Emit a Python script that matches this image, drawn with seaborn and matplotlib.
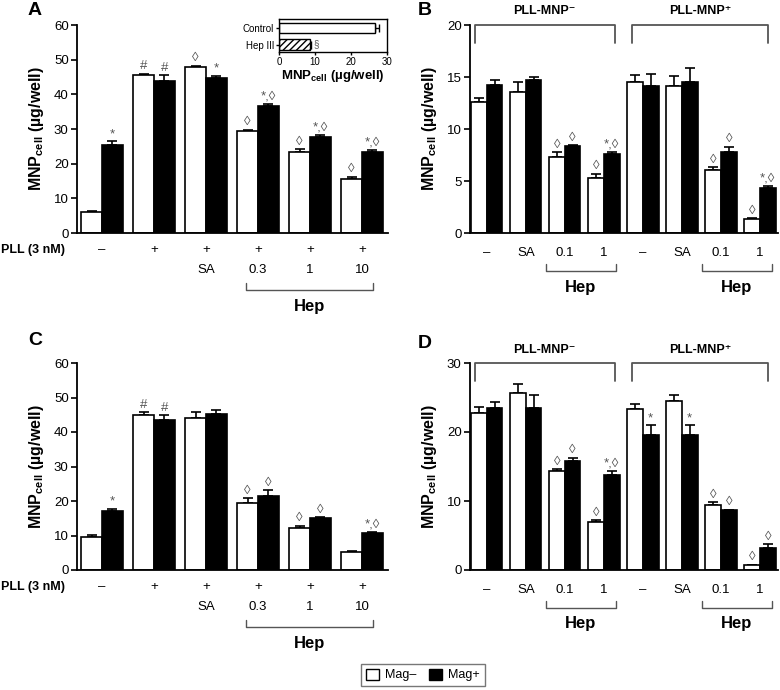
import numpy as np
import pandas as pd
import matplotlib
matplotlib.use("Agg")
import matplotlib.pyplot as plt
import matplotlib.transforms as mtransforms
from matplotlib.patches import Patch
import seaborn as sns

sns.set_theme(style="ticks", rc={"axes.edgecolor": "black", "text.color": "black",
                                 "xtick.color": "black", "ytick.color": "black",
                                 "axes.labelcolor": "black"})
plt.rcParams["font.family"] = ["Liberation Sans", "DejaVu Sans"]
plt.rcParams["mathtext.fontset"] = "custom"
plt.rcParams["mathtext.rm"] = "Liberation Sans"
plt.rcParams["mathtext.bf"] = "Liberation Sans:bold"
plt.rcParams["mathtext.it"] = "Liberation Sans:italic"
plt.rcParams["hatch.linewidth"] = 1.0

# ---------------- data ----------------
hue_levels = ["Mag–", "Mag+"]

# Panel A
a_row1 = ["–", "+", "+", "+", "+", "+"]
a_row2 = ["", "", "SA", "0.3", "1", "10"]
a_minus = [6.0, 45.6, 47.8, 29.5, 23.5, 15.6]
a_minus_err = [0.4, 0.4, 0.5, 0.3, 0.6, 0.6]
a_plus = [25.4, 43.9, 44.6, 36.7, 27.6, 23.3]
a_plus_err = [1.0, 1.7, 0.7, 0.4, 0.8, 0.7]
a_sig_minus = ["", "#", "◊", "◊", "◊", "◊"]
a_sig_plus = ["*", "#", "*", "*,◊", "*,◊", "*,◊"]

# Panel B
b_labels = ["–", "SA", "0.1", "1", "–", "SA", "0.1", "1"]
b_minus = [12.6, 13.6, 7.3, 5.3, 14.55, 14.15, 6.05, 1.3]
b_minus_err = [0.4, 0.9, 0.45, 0.4, 0.65, 0.9, 0.25, 0.1]
b_plus = [14.2, 14.7, 8.4, 7.55, 14.1, 14.5, 7.8, 4.35]
b_plus_err = [0.5, 0.3, 0.05, 0.25, 1.2, 1.4, 0.5, 0.2]
b_sig_minus = ["", "", "◊", "◊", "", "", "◊", "◊"]
b_sig_plus = ["", "", "◊", "*,◊", "", "", "◊", "*,◊"]

# Panel C
c_row1 = ["–", "+", "+", "+", "+", "+"]
c_row2 = ["", "", "SA", "0.3", "1", "10"]
c_minus = [9.7, 45.0, 44.0, 19.5, 12.1, 5.3]
c_minus_err = [0.4, 0.7, 1.7, 1.35, 0.7, 0.35]
c_plus = [17.1, 43.5, 45.2, 21.4, 15.0, 10.65]
c_plus_err = [0.7, 1.35, 1.05, 1.7, 0.3, 0.3]
c_sig_minus = ["", "#", "", "◊", "◊", ""]
c_sig_plus = ["*", "#", "", "◊", "◊", "*,◊"]

# Panel D
d_labels = ["–", "SA", "0.1", "1", "–", "SA", "0.1", "1"]
d_minus = [22.7, 25.6, 14.4, 7.0, 23.35, 24.55, 9.45, 0.67]
d_minus_err = [0.9, 1.3, 0.25, 0.2, 0.7, 0.8, 0.35, 0.1]
d_plus = [23.5, 23.45, 15.75, 13.8, 19.6, 19.6, 8.67, 3.2]
d_plus_err = [0.9, 1.9, 0.5, 0.6, 1.35, 1.35, 0.05, 0.55]
d_sig_minus = ["", "", "◊", "◊", "", "", "◊", "◊"]
d_sig_plus = ["", "", "◊", "*,◊", "*", "*", "◊", "◊"]

# Inset (panel A)
inset_cats = ["Control", "Hep III"]
inset_vals = [26.8, 8.6]
inset_err = [1.1, 0.3]
inset_sig = ["", "§"]

group_titles = ["PLL-MNP⁻", "PLL-MNP⁺"]

# ---------------- figure ----------------
W, H = 780, 690
fig = plt.figure(figsize=(W / 100, H / 100), dpi=100)


def axes_px(l, t, r, b):
    return fig.add_axes([l / W, 1 - b / H, (r - l) / W, (b - t) / H])


YLABEL = r"MNP$_{\mathbf{cell}}$ (µg/well)"
ANN_COLOR = "#555555"


def draw_panel(ax, minus, minus_err, plus, plus_err, sig_minus, sig_plus,
               ymax, ystep, xlim):
    n = len(minus)
    ids = [f"c{i}" for i in range(n)]
    df = pd.DataFrame({"cond": ids * 2,
                       "mag": [hue_levels[0]] * n + [hue_levels[1]] * n,
                       "val": list(minus) + list(plus)})
    sns.barplot(data=df, x="cond", y="val", hue="mag", order=ids,
                hue_order=hue_levels,
                palette={hue_levels[0]: "white", hue_levels[1]: "black"},
                edgecolor="black", linewidth=1.2, errorbar=None, width=0.8,
                saturation=1, legend=False, ax=ax, zorder=2)
    for cont, errs, sigs in zip(ax.containers, [minus_err, plus_err],
                                [sig_minus, sig_plus]):
        xs = [b.get_x() + b.get_width() / 2 for b in cont]
        hs = [b.get_height() for b in cont]
        ax.errorbar(xs, hs, yerr=[np.zeros(n), errs], fmt="none",
                    ecolor="black", elinewidth=1.2, capsize=3.5,
                    capthick=1.2, zorder=1)
        for x, h, e, s in zip(xs, hs, errs, sigs):
            if s:
                ax.annotate(s, (x, h + e), xytext=(0, 1),
                            textcoords="offset points", ha="center",
                            va="bottom", fontsize=9.5, color=ANN_COLOR)
    ax.set_xlim(*xlim)
    ax.set_ylim(0, ymax)
    ax.set_yticks(np.arange(0, ymax + 0.1, ystep))
    ax.set_xticks(range(n))
    ax.set_xticklabels([""] * n)
    ax.set_xlabel("")
    ax.set_ylabel(YLABEL, fontsize=11.5, fontweight="bold")
    ax.yaxis.set_label_coords(-0.10, 0.5)
    ax.tick_params(axis="x", length=0)
    ax.tick_params(axis="y", direction="out", length=4, width=1.2,
                   labelsize=9.5, pad=2)
    sns.despine(ax=ax)
    for sp in ("left", "bottom"):
        ax.spines[sp].set_linewidth(1.3)


def bracket_below(ax, x0, x1, y_top, y_bot, text, y_text):
    tr = mtransforms.blended_transform_factory(ax.transData, ax.transAxes)
    ax.plot([x0, x0, x1, x1], [y_top, y_bot, y_bot, y_top], color="#555555",
            lw=1.0, transform=tr, clip_on=False)
    ax.text((x0 + x1) / 2, y_text, text, transform=tr, ha="center",
            va="center", fontsize=12, fontweight="bold")


def bracket_above(ax, x0, x1, y_top, y_bot, text, y_text):
    tr = mtransforms.blended_transform_factory(ax.transData, ax.transAxes)
    ax.plot([x0, x0, x1, x1], [y_bot, y_top, y_top, y_bot], color="#555555",
            lw=1.3, transform=tr, clip_on=False)
    ax.text((x0 + x1) / 2, y_text, text, transform=tr, ha="center",
            va="center", fontsize=9, fontweight="bold")


def row_labels(ax, labels, y):
    tr = mtransforms.blended_transform_factory(ax.transData, ax.transAxes)
    for i, lab in enumerate(labels):
        if lab:
            ax.text(i, y, lab, transform=tr, ha="center", va="center",
                    fontsize=9.5)


# ---- Panels A and C (PLL rows) ----
axA = axes_px(77, 25, 388, 233)
axC = axes_px(77, 363, 388, 570)
for ax, mi, mie, pl, ple, smi, spl, r1, r2 in [
        (axA, a_minus, a_minus_err, a_plus, a_plus_err, a_sig_minus,
         a_sig_plus, a_row1, a_row2),
        (axC, c_minus, c_minus_err, c_plus, c_plus_err, c_sig_minus,
         c_sig_plus, c_row1, c_row2)]:
    draw_panel(ax, mi, mie, pl, ple, smi, spl, 60, 10, (-0.48, 5.5))
    row_labels(ax, r1, -0.082)
    row_labels(ax, r2, -0.178)
    tr = mtransforms.blended_transform_factory(fig.transFigure, ax.transAxes)
    ax.text(1 / W, -0.082, "PLL (3 nM)", transform=tr,
            ha="left", va="center", fontsize=9, fontweight="bold")
    bracket_below(ax, 2.77, 5.21, -0.24, -0.274, "Hep", -0.355)

# ---- Panels B and D (PLL-MNP groups) ----
axB = axes_px(470, 25, 778, 233)
axD = axes_px(470, 363, 778, 570)
for ax, mi, mie, pl, ple, smi, spl, labs, ymax, step in [
        (axB, b_minus, b_minus_err, b_plus, b_plus_err, b_sig_minus,
         b_sig_plus, b_labels, 20, 5),
        (axD, d_minus, d_minus_err, d_plus, d_plus_err, d_sig_minus,
         d_sig_plus, d_labels, 30, 10)]:
    draw_panel(ax, mi, mie, pl, ple, smi, spl, ymax, step, (-0.43, 7.46))
    row_labels(ax, labs, -0.096)
    bracket_below(ax, 1.51, 3.32, -0.15, -0.185, "Hep", -0.26)
    bracket_below(ax, 5.51, 7.3, -0.15, -0.185, "Hep", -0.26)
    bracket_above(ax, -0.31, 3.28, 1.0, 0.915, group_titles[0], 1.065)
    bracket_above(ax, 3.72, 7.2, 1.0, 0.915, group_titles[1], 1.065)

# ---- Inset in panel A ----
axI = axes_px(279, 19, 387, 52)
dfi = pd.DataFrame({"cat": inset_cats, "val": inset_vals})
sns.barplot(data=dfi, x="val", y="cat", orient="h", order=inset_cats,
            color="white", edgecolor="black", linewidth=1.0, errorbar=None,
            width=0.65, saturation=1, ax=axI, zorder=2)
axI.patches[1].set_hatch("/////")
ys = [p.get_y() + p.get_height() / 2 for p in axI.patches]
xe = [p.get_width() for p in axI.patches]
axI.errorbar(xe, ys, xerr=[np.zeros(len(xe)), inset_err], fmt="none",
             ecolor="black", elinewidth=1.0, capsize=3, capthick=1.0,
             zorder=1)
for x, y, e, s in zip(xe, ys, inset_err, inset_sig):
    if s:
        axI.annotate(s, (x + e, y), xytext=(2, 0), textcoords="offset points",
                     ha="left", va="center", fontsize=7, color=ANN_COLOR)
axI.set_xlim(0, 30)
axI.set_ylim(1.45, -0.54)
axI.set_xticks([0, 10, 20, 30])
axI.set_ylabel("")
axI.set_xlabel(YLABEL, fontsize=9.5, fontweight="bold", labelpad=1)
axI.tick_params(axis="both", direction="out", length=2, width=1.0,
                labelsize=7, pad=1.5)
for sp in axI.spines.values():
    sp.set_linewidth(1.0)
    sp.set_visible(True)

# ---- Panel letters ----
for lab, x, y in [("A", 28, 2), ("B", 418, 2), ("C", 28, 332), ("D", 418, 335)]:
    fig.text(x / W, 1 - y / H, lab, ha="left", va="top", fontsize=14,
             fontweight="bold")

# ---- Legend ----
handles = [Patch(facecolor="white", edgecolor="black", linewidth=1.0),
           Patch(facecolor="black", edgecolor="black", linewidth=1.0)]
fig.legend(handles=handles, labels=hue_levels, loc="center",
           bbox_to_anchor=(423 / W, 1 - 675 / H), ncol=2, frameon=True,
           fancybox=False, edgecolor="#555555", fontsize=9,
           handlelength=1.0, handleheight=1.0, columnspacing=1.0,
           handletextpad=0.5, borderpad=0.4, borderaxespad=0)

fig.savefig("out.png", dpi=100)
